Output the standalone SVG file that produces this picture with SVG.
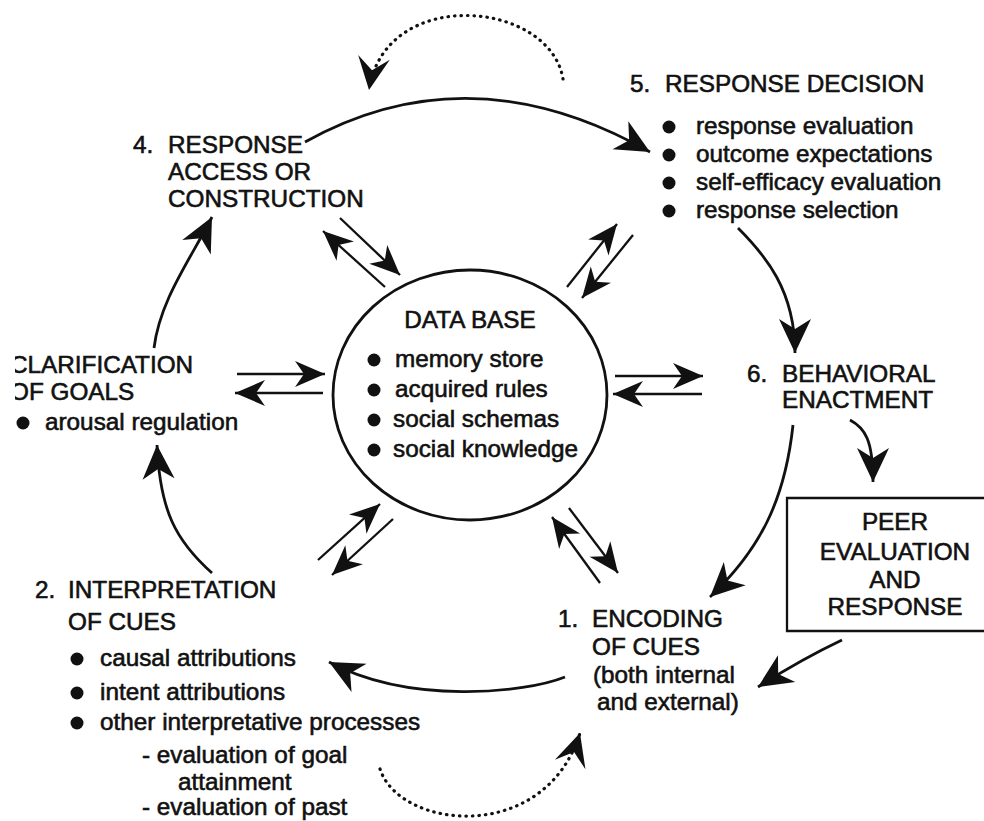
<svg xmlns="http://www.w3.org/2000/svg" width="984" height="821" viewBox="0 0 984 821">
<style>
text{font-family:"Liberation Sans",Arial,sans-serif;font-size:24.3px;fill:#111;stroke:#111;stroke-width:0.6}
.mid{text-anchor:middle}
.bul{fill:#111}
.ln{fill:none;stroke:#111;stroke-width:2.8}
.pr{fill:none;stroke:#111;stroke-width:2.3}
.dot{fill:none;stroke:#111;stroke-width:3.2;stroke-dasharray:0.5 6;stroke-linecap:round}
</style>
<defs>
<marker id="ah" viewBox="-35 -17 37 34" refX="0" refY="0" markerWidth="37" markerHeight="34" markerUnits="userSpaceOnUse" orient="auto">
<path d="M0,0 L-34,-16 L-24,0 L-34,16 Z" fill="#111"/>
</marker>
<marker id="ahs" viewBox="-31 -14 33 28" refX="0" refY="0" markerWidth="33" markerHeight="28" markerUnits="userSpaceOnUse" orient="auto">
<path d="M0,0 L-30,-13 L-21,0 L-30,13 Z" fill="#111"/>
</marker>
<marker id="ahd" viewBox="-35 -17 37 34" refX="0" refY="0" markerWidth="37" markerHeight="34" markerUnits="userSpaceOnUse" orient="auto">
<path d="M0,0 L-33,-16 L-20,0 L-33,16 Z" fill="#111"/>
</marker>
<clipPath id="clipL"><rect x="15" y="0" width="969" height="821"/></clipPath>
</defs>

<g id="connectors">
<path class="ln" d="M305,142 Q470,50 650,152" marker-end="url(#ah)"/>
<path class="ln" d="M738,228 C765,255 795,290 795,353" marker-end="url(#ah)"/>
<path class="ln" d="M793,425 C785,500 760,550 710,597" marker-end="url(#ah)"/>
<path class="ln" d="M850,420 C865,428 873,440 873,482" marker-end="url(#ah)"/>
<path class="ln" d="M842,640 Q800,660 758,687" marker-end="url(#ah)"/>
<path class="ln" d="M565,677 C525,693 410,705 329,662" marker-end="url(#ah)"/>
<path class="ln" d="M212,573 C175,540 160,510 157,445" marker-end="url(#ah)"/>
<path class="ln" d="M154,348 C160,300 190,260 212,217" marker-end="url(#ah)"/>
<path class="dot" d="M563,79 C550,0 385,-15 369,90" marker-end="url(#ahd)"/>
<path class="dot" d="M380,769 C400,830 545,845 580,733" marker-end="url(#ahd)"/>
<path class="pr" d="M385,287 L323,231" marker-end="url(#ahs)"/>
<path class="pr" d="M340,218 L400,275" marker-end="url(#ahs)"/>
<path class="pr" d="M567,287 L617,224" marker-end="url(#ahs)"/>
<path class="pr" d="M633,235 L582,298" marker-end="url(#ahs)"/>
<path class="pr" d="M237,374 L325,374" marker-end="url(#ahs)"/>
<path class="pr" d="M323,393 L235,393" marker-end="url(#ahs)"/>
<path class="pr" d="M615,376 L703,376" marker-end="url(#ahs)"/>
<path class="pr" d="M702,394 L613,394" marker-end="url(#ahs)"/>
<path class="pr" d="M318,560 L380,504" marker-end="url(#ahs)"/>
<path class="pr" d="M393,519 L332,575" marker-end="url(#ahs)"/>
<path class="pr" d="M600,583 L552,517" marker-end="url(#ahs)"/>
<path class="pr" d="M569,508 L618,573" marker-end="url(#ahs)"/>
</g>

<g id="db">
<ellipse cx="470" cy="395" rx="137" ry="125" fill="none" stroke="#111" stroke-width="2.8"/>
<text x="470" y="328" class="mid">DATA BASE</text>
<circle class="bul" cx="374" cy="360" r="6.5"/><text x="395" y="367">memory store</text>
<circle class="bul" cx="374" cy="390" r="6.5"/><text x="395" y="397">acquired rules</text>
<circle class="bul" cx="374" cy="420" r="6.5"/><text x="393" y="427">social schemas</text>
<circle class="bul" cx="374" cy="450" r="6.5"/><text x="393" y="457">social knowledge</text>
</g>

<g id="n4">
<text x="133" y="153">4.</text>
<text x="168" y="153">RESPONSE</text>
<text x="168" y="180">ACCESS OR</text>
<text x="168" y="207">CONSTRUCTION</text>
</g>

<g id="n5">
<text x="630" y="92">5.</text>
<text x="665" y="92">RESPONSE DECISION</text>
<circle class="bul" cx="669" cy="127" r="6.5"/><text x="696" y="134">response evaluation</text>
<circle class="bul" cx="669" cy="155" r="6.5"/><text x="696" y="162">outcome expectations</text>
<circle class="bul" cx="669" cy="183" r="6.5"/><text x="696" y="190">self-efficacy evaluation</text>
<circle class="bul" cx="669" cy="211" r="6.5"/><text x="696" y="218">response selection</text>
</g>

<g id="n3" clip-path="url(#clipL)">
<text x="10" y="373">CLARIFICATION</text>
<text x="10" y="400">OF GOALS</text>
<circle class="bul" cx="23" cy="423" r="6.5"/><text x="45" y="430">arousal regulation</text>
</g>

<g id="n6">
<text x="747" y="382">6.</text>
<text x="782" y="382">BEHAVIORAL</text>
<text x="782" y="408">ENACTMENT</text>
</g>

<g id="peer">
<path d="M984,498 H787 V631 H984" fill="none" stroke="#111" stroke-width="2.3"/>
<text x="895" y="530" class="mid">PEER</text>
<text x="895" y="560" class="mid">EVALUATION</text>
<text x="895" y="588" class="mid">AND</text>
<text x="895" y="615" class="mid">RESPONSE</text>
</g>

<g id="n1">
<text x="558" y="627">1.</text>
<text x="592" y="627">ENCODING</text>
<text x="592" y="655">OF CUES</text>
<text x="593" y="683">(both internal</text>
<text x="597" y="710">and external)</text>
</g>

<g id="n2">
<text x="35" y="598">2.</text>
<text x="68" y="598">INTERPRETATION</text>
<text x="68" y="630">OF CUES</text>
<circle class="bul" cx="77" cy="659" r="6.5"/><text x="100" y="666">causal attributions</text>
<circle class="bul" cx="77" cy="693" r="6.5"/><text x="100" y="700">intent attributions</text>
<circle class="bul" cx="77" cy="723" r="6.5"/><text x="100" y="730">other interpretative processes</text>
<text x="142" y="763">- evaluation of goal</text>
<text x="178" y="790">attainment</text>
<text x="142" y="815">- evaluation of past</text>
</g>
</svg>
